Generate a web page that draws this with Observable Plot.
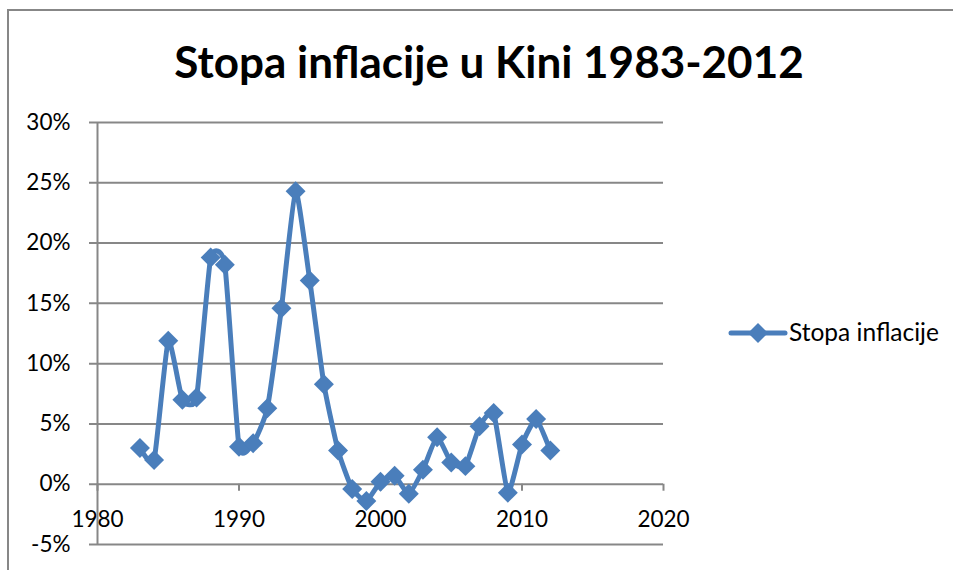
<!DOCTYPE html>
<html><head><meta charset="utf-8">
<script src="https://cdn.jsdelivr.net/npm/d3@7"></script>
<script src="https://cdn.jsdelivr.net/npm/@observablehq/plot@0.6"></script>
<style>
body{margin:0;background:#fff;}
#wrap{position:relative;width:953px;height:570px;overflow:hidden;font-family:Lato,sans-serif;background:#fff;}
#border{position:absolute;left:7px;top:9px;width:1000px;height:1000px;border:2px solid #878787;box-sizing:border-box;}
#chart{position:absolute;left:0;top:0;}
#overlay{position:absolute;left:0;top:0;}
</style>
</head><body>
<div id="wrap">
<div id="border"></div>
<div id="chart"></div>
<svg id="overlay" width="953" height="570" font-family="Lato, sans-serif">
  <text x="489" y="78" text-anchor="middle" font-weight="bold" font-size="44" fill="#000">Stopa inflacije u Kini 1983-2012</text>
  <line x1="731" x2="785" y1="333" y2="333" stroke="#4a7ebb" stroke-width="5" stroke-linecap="round"/>
  <path d="M758,323L768,333L758,343L748,333Z" fill="#4a7ebb"/>
  <text x="789" y="341" font-size="24.5" fill="#000">Stopa inflacije</text>
</svg>
</div>
<script>
const years = [1983,1984,1985,1986,1987,1988,1989,1990,1991,1992,1993,1994,1995,1996,1997,1998,1999,2000,2001,2002,2003,2004,2005,2006,2007,2008,2009,2010,2011,2012];
const rates = [3.0,2.0,11.9,7.0,7.2,18.8,18.2,3.1,3.4,6.3,14.6,24.3,16.9,8.3,2.8,-0.4,-1.4,0.2,0.7,-0.8,1.2,3.9,1.8,1.5,4.8,5.9,-0.7,3.3,5.4,2.8];
const xTicks = [1980,1990,2000,2010,2020];
const yTicks = [-5,0,5,10,15,20,25,30];

const data = years.map((y,i)=>({year:y, rate:rates[i]/100}));
const yT = yTicks.map(v=>v/100);
const blue = "#4a7ebb", grid = "#878787";

const chart = Plot.plot({
  width:953, height:570,
  marginLeft:97, marginRight:290, marginTop:122, marginBottom:26,
  x:{domain:[1980,2020], axis:null},
  y:{domain:[-0.05,0.30], axis:null},
  style:{fontFamily:"Lato, sans-serif", fontSize:"22.5px", color:"#000", background:"transparent"},
  marks:[
    Plot.ruleY(yT, {stroke:grid, strokeWidth:2, insetLeft:-8}),
    Plot.ruleX([1980], {stroke:grid, strokeWidth:2}),
    Plot.ruleX(xTicks, {x:d=>d, y1:0, y2:0, insetTop:7, stroke:grid, strokeWidth:2}),
    Plot.axisY({ticks:yT, tickSize:0, tickPadding:27, tickFormat:d=>Math.round(d*100)+"%", label:null, fill:"#000"}),
    Plot.text(xTicks, {x:d=>d, y:0, dy:35.5, text:d=>String(d), fill:"#000"}),
    Plot.line(data, {x:"year", y:"rate", curve:"cardinal", tension:0.5, stroke:blue, strokeWidth:5}),
    Plot.dot(data, {x:"year", y:"rate", symbol:"diamond2", r:9, fill:blue})
  ]
});
document.getElementById("chart").appendChild(chart);
</script>
</body></html>
